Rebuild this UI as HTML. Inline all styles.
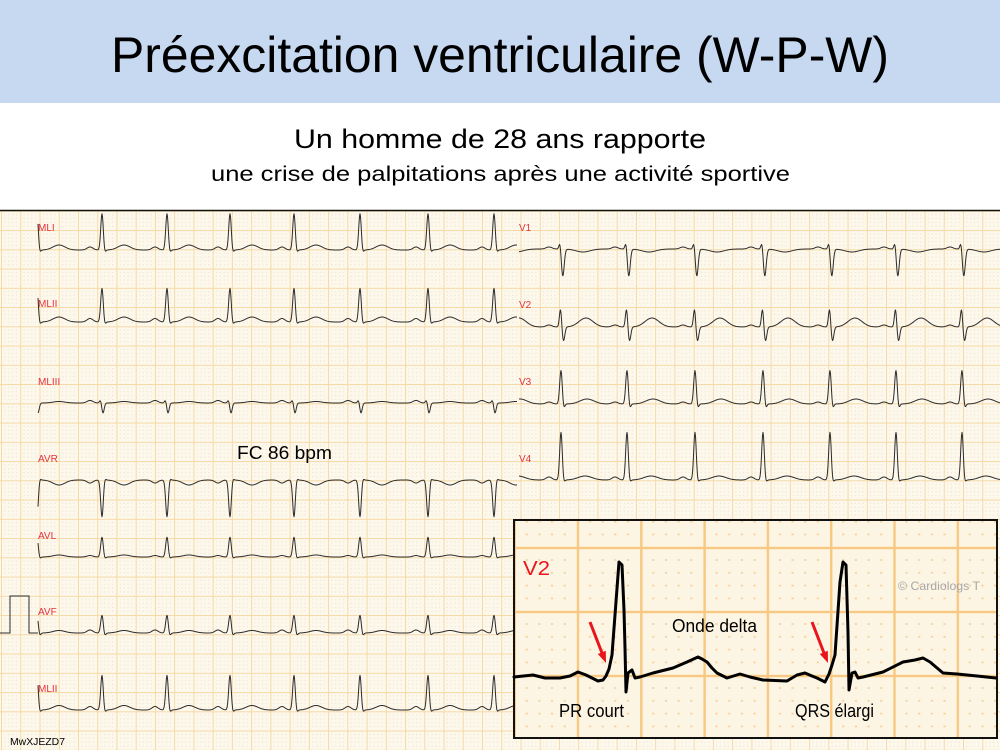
<!DOCTYPE html>
<html><head><meta charset="utf-8">
<style>html,body{margin:0;padding:0;background:#fff}svg{display:block}</style>
</head><body>
<svg id="s" width="1000" height="750" viewBox="0 0 1000 750" xmlns="http://www.w3.org/2000/svg">
<defs>
<pattern id="g" patternUnits="userSpaceOnUse" x="1" y="210.8" width="19.24" height="19.25">
 <rect width="19.24" height="19.25" fill="#fdf8ec"/>
 <g fill="#f1d4bd">
  <rect x="3.4" y="3.4" width="0.9" height="0.9"/><rect x="7.25" y="3.4" width="0.9" height="0.9"/><rect x="11.1" y="3.4" width="0.9" height="0.9"/><rect x="14.95" y="3.4" width="0.9" height="0.9"/>
  <rect x="3.4" y="7.25" width="0.9" height="0.9"/><rect x="7.25" y="7.25" width="0.9" height="0.9"/><rect x="11.1" y="7.25" width="0.9" height="0.9"/><rect x="14.95" y="7.25" width="0.9" height="0.9"/>
  <rect x="3.4" y="11.1" width="0.9" height="0.9"/><rect x="7.25" y="11.1" width="0.9" height="0.9"/><rect x="11.1" y="11.1" width="0.9" height="0.9"/><rect x="14.95" y="11.1" width="0.9" height="0.9"/>
  <rect x="3.4" y="14.95" width="0.9" height="0.9"/><rect x="7.25" y="14.95" width="0.9" height="0.9"/><rect x="11.1" y="14.95" width="0.9" height="0.9"/><rect x="14.95" y="14.95" width="0.9" height="0.9"/>
 </g>
 <rect width="19.24" height="1" fill="#f6d9a6"/>
 <rect width="1" height="19.25" fill="#f6d9a6"/>
</pattern>
<pattern id="g2" patternUnits="userSpaceOnUse" x="513.5" y="482.8" width="63.3" height="64">
 <rect width="63.3" height="64" fill="#fdf5e4"/>
 <g fill="#f4cd98">
  <rect x="12.1" y="12.4" width="2.2" height="1.6"/><rect x="24.8" y="12.4" width="2.2" height="1.6"/><rect x="37.4" y="12.4" width="2.2" height="1.6"/><rect x="50.1" y="12.4" width="2.2" height="1.6"/>
  <rect x="12.1" y="25.2" width="2.2" height="1.6"/><rect x="24.8" y="25.2" width="2.2" height="1.6"/><rect x="37.4" y="25.2" width="2.2" height="1.6"/><rect x="50.1" y="25.2" width="2.2" height="1.6"/>
  <rect x="12.1" y="38" width="2.2" height="1.6"/><rect x="24.8" y="38" width="2.2" height="1.6"/><rect x="37.4" y="38" width="2.2" height="1.6"/><rect x="50.1" y="38" width="2.2" height="1.6"/>
  <rect x="12.1" y="50.8" width="2.2" height="1.6"/><rect x="24.8" y="50.8" width="2.2" height="1.6"/><rect x="37.4" y="50.8" width="2.2" height="1.6"/><rect x="50.1" y="50.8" width="2.2" height="1.6"/>
 </g>
 <rect width="63.3" height="2.4" fill="#f8c883"/>
 <rect width="2.4" height="64" fill="#f8c883"/>
</pattern>
</defs>

<!-- header -->
<rect x="0" y="0" width="1000" height="103" fill="#c6d9f1"/>
<text x="500" y="72" text-anchor="middle" font-family="Liberation Sans, sans-serif" font-size="50" fill="#000" textLength="778" lengthAdjust="spacingAndGlyphs">Préexcitation ventriculaire (W-P-W)</text>
<text x="294" y="148" font-family="Liberation Sans, sans-serif" font-size="27" fill="#000" textLength="412" lengthAdjust="spacingAndGlyphs">Un homme de 28 ans rapporte</text>
<text x="211" y="181" font-family="Liberation Sans, sans-serif" font-size="21" fill="#000" textLength="579" lengthAdjust="spacingAndGlyphs">une crise de palpitations après une activité sportive</text>

<!-- ECG area -->
<rect x="0" y="210" width="1000" height="540" fill="url(#g)"/>
<line x1="0" y1="210.5" x2="1000" y2="210.5" stroke="#111" stroke-width="1.5"/>

<g font-family="Liberation Sans, sans-serif" font-size="10" fill="#e5323c">
 <text x="38" y="231">MLI</text>
 <text x="38" y="307">MLII</text>
 <text x="38" y="385">MLIII</text>
 <text x="38" y="462">AVR</text>
 <text x="38" y="539">AVL</text>
 <text x="38" y="615">AVF</text>
 <text x="38" y="692">MLII</text>
 <text x="519" y="231">V1</text>
 <text x="519" y="308">V2</text>
 <text x="519" y="385">V3</text>
 <text x="519" y="462">V4</text>
</g>

<g id="traces" fill="none" stroke="#2b2b2b" stroke-width="1" stroke-linejoin="round"></g>
<path d="M0,633 H10 V596 H29 V633 H38" fill="none" stroke="#2b2b2b" stroke-width="1"/>

<text x="237" y="459" font-family="Liberation Sans, sans-serif" font-size="18" fill="#000" textLength="95" lengthAdjust="spacingAndGlyphs">FC 86 bpm</text>
<text x="10" y="745" font-family="Liberation Sans, sans-serif" font-size="10" fill="#000" textLength="55" lengthAdjust="spacingAndGlyphs">MwXJEZD7</text>

<!-- inset -->
<rect x="514" y="520" width="483" height="218" fill="url(#g2)" stroke="#111" stroke-width="2"/>
<text x="523" y="575" font-family="Liberation Sans, sans-serif" font-size="20" fill="#e8161b" textLength="27" lengthAdjust="spacingAndGlyphs">V2</text>
<text x="898" y="590" font-family="Liberation Sans, sans-serif" font-size="12" fill="#a6a6a6" textLength="82" lengthAdjust="spacingAndGlyphs">© Cardiologs T</text>
<text x="672" y="632" font-family="Liberation Sans, sans-serif" font-size="18" fill="#000" textLength="85" lengthAdjust="spacingAndGlyphs">Onde delta</text>
<text x="559" y="717" font-family="Liberation Sans, sans-serif" font-size="18" fill="#000" textLength="65" lengthAdjust="spacingAndGlyphs">PR court</text>
<text x="795" y="717" font-family="Liberation Sans, sans-serif" font-size="18" fill="#000" textLength="79" lengthAdjust="spacingAndGlyphs">QRS élargi</text>
<polyline fill="none" stroke="#000" stroke-width="3" stroke-linejoin="round" stroke-linecap="round" points="514,677 533,675 545,678 560,678 570,676 578,672 586,675 598,681 603,680 606,676 609,669 612,655 615,615 619,562 622,565 624,610 625,648 626,692 628,673 632,670 635,678 640,677 653,673 673,668 687,662 698,657 702,659 707,662 712,668 717,673 727,678 740,674 750,677 763,680 787,681 797,675 805,673 812,676 817,678 825,682 829,674 832,665 835,655 840,582 843,562 846,565 848,632 849,690 852,673 855,672 858,678 863,677 883,672 903,662 915,660 923,658 930,662 943,673 957,674 977,676 996,678"/>
<g stroke="#e8161b" stroke-width="3" fill="#e8161b">
 <line x1="590" y1="622" x2="602" y2="653"/>
 <polygon stroke="none" points="606,663 605.8,650.8 597.8,654"/>
 <line x1="812" y1="622" x2="824" y2="653"/>
 <polygon stroke="none" points="828,663 827.8,650.8 819.8,654"/>
</g>
</svg>
<script>
(function(){
 function G(x,m,s){var d=(x-m)/s;return Math.exp(-0.5*d*d);}
 function trace(y0,beats,comps,x0,x1){
  var d='';
  for(var x=x0;x<=x1;x+=0.5){
   var v=0;
   for(var i=0;i<beats.length;i++){var b=beats[i];if(Math.abs(x-b)>60)continue;
    for(var k=0;k<comps.length;k++){var c=comps[k];v+=c[2]*G(x,b+c[0],c[1]);}}
   d+=(x===x0?'M':'L')+x.toFixed(1)+','+(y0-v).toFixed(2);
  }
  return d;
 }
 var BL=[37,102,167,230,294,360,428,494,560];
 var BR=[494,561,627,695,763,830,896,962,1028];
 var leads=[
  [250,BL,[[-12,3,3],[-1.5,1.1,-1],[0,1.3,37],[2.5,1.2,-3],[22,6,5]],38,517],
  [322,BL,[[-12,3,3.5],[0,1.3,34],[2.5,1.2,-3],[22,6,5]],38,517],
  [403,BL,[[-12,3,2.5],[-1.5,1,3],[1,1.2,-10],[22,6,1.5]],38,517],
  [480,BL,[[-12,3,-3],[0,1.3,-37],[2.5,1.2,2],[22,6,-5]],38,517],
  [557,BL,[[-12,3,1.5],[0,1.3,20],[2.5,1.2,-2],[22,6,2]],38,517],
  [633,BL,[[-12,3,3],[0,1.3,18],[2.5,1.2,-3],[22,6,2.5]],38,517],
  [710,BL,[[-12,3,3.5],[0,1.3,35],[2.5,1.2,-3],[22,6,4.5]],38,517],
  [249,BR,[[-12,3,2],[-1,1.0,7],[1.8,1.4,-27],[22,7,-3]],519,1000],
  [327,BR,[[-12,3,2],[-0.5,1.1,18],[2.5,1.3,-14],[25,7,9]],519,1000],
  [404,BR,[[-12,3,2],[0,1.3,34],[2.5,1.2,-5],[26,7,5]],519,1000],
  [480,BR,[[-12,3,3],[0,1.3,48],[2.5,1.2,-3],[24,7,4]],519,1000]
 ];
 var g=document.getElementById('traces');var ns='http://www.w3.org/2000/svg';
 for(var i=0;i<leads.length;i++){var L=leads[i];var p=document.createElementNS(ns,'path');
  p.setAttribute('d',trace(L[0],L[1],L[2],L[3],L[4]));g.appendChild(p);}
})();
</script>
</body></html>
